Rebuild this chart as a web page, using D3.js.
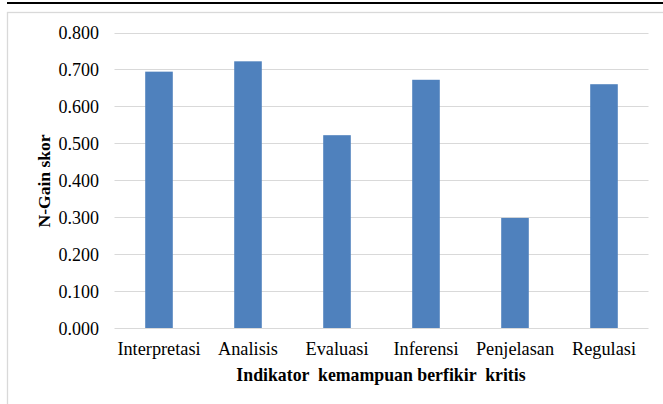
<!DOCTYPE html>
<html><head><meta charset="utf-8">
<script src="https://cdn.jsdelivr.net/npm/d3@7"></script>
<style>html,body{margin:0;padding:0;background:#fff;}svg{display:block;}
svg text{font-family:"Liberation Serif","Times New Roman",Tinos,"Nimbus Roman","DejaVu Serif",serif !important;}
</style>
</head><body>
<script>
const categories = ["Interpretasi","Analisis","Evaluasi","Inferensi","Penjelasan","Regulasi"];
const values = [0.694, 0.722, 0.522, 0.672, 0.298, 0.660];
const yTicks = [0, 0.1, 0.2, 0.3, 0.4, 0.5, 0.6, 0.7, 0.8];
const yTitle = "N-Gain skor";
const xTitle = "Indikator  kemampuan berfikir  kritis";

const W = 663, H = 404;
const svg = d3.select("body").append("svg").attr("width", W).attr("height", H);

// frame
svg.append("line").attr("x1",7).attr("x2",W).attr("y1",3).attr("y2",3).attr("stroke","#000").attr("stroke-width",2.2);
svg.append("rect").attr("x",7.5).attr("y",12.5).attr("width",W).attr("height",H)
  .attr("fill","none").attr("stroke","#d9d9d9").attr("stroke-width",1.3);

const x = d3.scaleBand().domain(categories).range([114.5, 648.5]).paddingInner(0.69).paddingOuter(0.345);
const y = d3.scaleLinear().domain([0, 0.8]).range([328, 32.5]);

// gridlines
svg.append("g").selectAll("line").data(yTicks).join("line")
  .attr("x1",114.5).attr("x2",648.5)
  .attr("y1",d=>Math.round(y(d))+0.5).attr("y2",d=>Math.round(y(d))+0.5)
  .attr("stroke","#d9d9d9").attr("stroke-width",1);

// bars
svg.append("g").selectAll("rect").data(values).join("rect")
  .attr("x",(d,i)=>x(categories[i]))
  .attr("width",x.bandwidth())
  .attr("y",d=>y(d))
  .attr("height",d=>y(0)-y(d))
  .attr("fill","#4f81bd");

// y axis
const yAxis = d3.axisLeft(y).tickValues(yTicks).tickFormat(d3.format(".3f")).tickSize(0).tickPadding(0);
const ya = svg.append("g").attr("transform","translate(99,0)").call(yAxis);
ya.select(".domain").remove();
ya.selectAll("text").attr("font-size",18).attr("fill","#000").attr("dy","0.34em");

// x axis
const xAxis = d3.axisBottom(x).tickSize(0).tickPadding(0);
const xa = svg.append("g").attr("transform","translate(0,341.5)").call(xAxis);
xa.select(".domain").remove();
xa.selectAll("text").attr("font-size",18.3).attr("fill","#000").attr("dy","0.71em");

// titles
svg.append("text").attr("transform","translate(50,181) rotate(-90)")
  .attr("text-anchor","middle").attr("font-weight","bold")
  .attr("font-size",17.5).attr("fill","#000").text(yTitle);
svg.append("text").attr("x",381).attr("y",381).attr("text-anchor","middle")
  .attr("font-weight","bold").attr("font-size",17.8)
  .attr("fill","#000").style("white-space","pre").text(xTitle);
</script>
</body></html>
